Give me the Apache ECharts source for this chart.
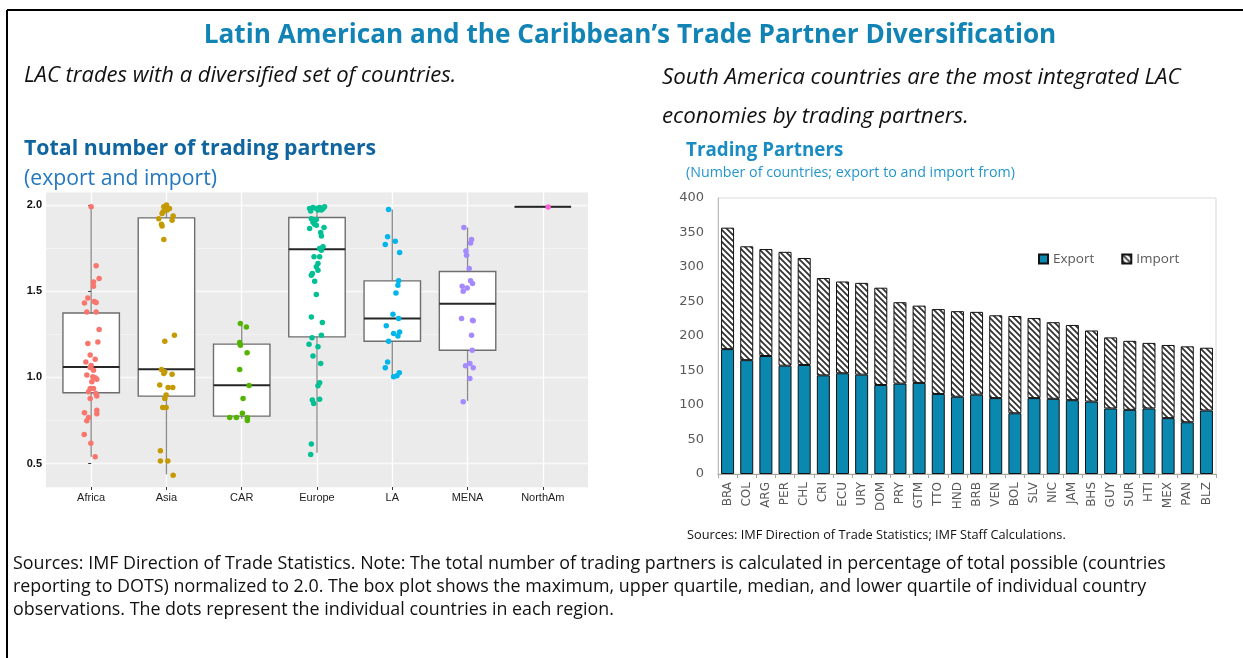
<!DOCTYPE html>
<html>
<head>
<meta charset="utf-8">
<title>LAC Trade Partner Diversification</title>
<script src="https://cdn.jsdelivr.net/npm/echarts@6/dist/echarts.min.js"></script>
<style>
  html, body { margin: 0; padding: 0; background: #fff; }
  #chartmain { width: 1243px; height: 658px; }
</style>
</head>
<body>
<div id="chartmain"></div>
<script>
// ---- left panel: box plot by region ----
var regionList = ['Africa', 'Asia', 'CAR', 'Europe', 'LA', 'MENA', 'NorthAm'];
// [min, lower quartile, median, upper quartile, max]
var boxStats = [
    [0.54, 0.911, 1.061, 1.374, 1.99],
    [0.438, 0.892, 1.048, 1.925, 2.0],
    [0.76, 0.776, 0.955, 1.193, 1.313],
    [0.563, 1.235, 1.743, 1.927, 1.995],
    [1.007, 1.21, 1.342, 1.56, 1.973],
    [0.864, 1.158, 1.427, 1.614, 1.869],
    [1.989, 1.989, 1.989, 1.989, 1.989]
];
// individual countries: [jitter, value]
var africaPts = [[0, 1.99], [0.066, 1.647], [0.106, 1.573], [0.031, 1.554], [0.031, 1.529], [-0.044, 1.461],
    [-0.089, 1.432], [0.04, 1.44], [0.066, 1.434], [-0.058, 1.38], [0.066, 1.38], [0.106, 1.278],
    [-0.044, 1.197], [0.089, 1.206], [-0.013, 1.13], [0.053, 1.106], [-0.071, 1.09], [0, 1.07],
    [-0.013, 1.058], [0.031, 1.042], [-0.058, 1.014], [0.022, 1.004], [0.053, 0.998], [0.075, 0.99],
    [0.009, 0.975], [-0.013, 0.936], [0.031, 0.936], [-0.035, 0.917], [0.062, 0.907], [0.075, 0.892],
    [-0.013, 0.878], [0.075, 0.81], [0.075, 0.79], [-0.089, 0.795], [-0.035, 0.768], [-0.058, 0.749],
    [-0.093, 0.67], [-0.004, 0.618], [0.053, 0.54]];
var asiaPts = [[0, 2.0], [-0.035, 1.99], [0.04, 1.98], [0.01, 1.97], [-0.044, 1.96], [-0.058, 1.95],
    [0.089, 1.936], [0.075, 1.911], [-0.102, 1.92], [-0.066, 1.888], [-0.058, 1.878], [-0.035, 1.8],
    [0.106, 1.245], [-0.022, 1.21], [-0.066, 1.046], [-0.022, 1.033], [-0.035, 1.023], [0.075, 1.019],
    [-0.089, 0.956], [0.022, 0.942], [0.084, 0.942], [-0.004, 0.898], [-0.022, 0.878], [-0.049, 0.826],
    [-0.004, 0.826], [-0.08, 0.575], [-0.08, 0.515], [0.018, 0.515], [0.089, 0.433]];
var carPts = [[-0.018, 1.313], [0.062, 1.293], [-0.027, 1.203], [-0.018, 1.187], [0.071, 1.143],
    [-0.027, 1.046], [0.098, 0.954], [0.018, 0.878], [0.009, 0.792], [-0.16, 0.768], [-0.071, 0.768],
    [0.075, 0.766], [0.075, 0.751]];
var europePts = [[-0.098, 1.98], [-0.053, 1.985], [-0.009, 1.98], [0.035, 1.985], [0.08, 1.98],
    [-0.084, 1.965], [0.013, 1.97], [0.058, 1.97], [0.1, 1.99], [-0.075, 1.92], [-0.009, 1.915],
    [-0.053, 1.9], [-0.031, 1.888], [-0.009, 1.882], [-0.098, 1.863], [0.093, 1.869], [0.049, 1.84],
    [0.058, 1.82], [0.08, 1.757], [0.035, 1.747], [0.058, 1.737], [-0.04, 1.699], [0.035, 1.699],
    [0.013, 1.66], [-0.009, 1.641], [0.013, 1.622], [-0.062, 1.602], [-0.075, 1.593], [-0.031, 1.558],
    [-0.009, 1.481], [-0.075, 1.351], [0.071, 1.318], [0.058, 1.245], [-0.066, 1.23], [-0.106, 1.193],
    [0.013, 1.178], [-0.053, 1.125], [0.049, 1.081], [0.035, 0.969], [0.013, 0.952], [-0.062, 0.869],
    [-0.044, 0.849], [0.035, 0.873], [-0.075, 0.614], [-0.084, 0.554]];
var laPts = [[-0.049, 1.973], [-0.062, 1.815], [0.04, 1.79], [-0.093, 1.77], [0.098, 1.724],
    [0.084, 1.56], [0.075, 1.535], [0.049, 1.49], [0.009, 1.367], [0.084, 1.342], [-0.08, 1.3],
    [0.018, 1.255], [0.098, 1.264], [0.075, 1.241], [-0.049, 1.21], [-0.062, 1.09], [-0.093, 1.056],
    [0.018, 1.004], [0.062, 1.01], [0.093, 1.027]];
var menaPts = [[-0.049, 1.869], [0.053, 1.8], [0.04, 1.78], [-0.022, 1.733], [-0.013, 1.709],
    [0.022, 1.631], [0.04, 1.56], [0.066, 1.544], [-0.071, 1.529], [-0.004, 1.519], [-0.058, 1.5],
    [-0.08, 1.342], [0.066, 1.332], [0.075, 1.328], [0.053, 1.245], [0.062, 1.158], [0.031, 1.081],
    [-0.027, 1.068], [0.075, 1.056], [0.031, 0.994], [-0.058, 0.859]];
var northAmPts = [[0.071, 1.988]];
var regionPts = [africaPts, asiaPts, carPts, europePts, laPts, menaPts, northAmPts];
var leftYTicks = [0.5, 1.0, 1.5, 2.0];

// ---- right panel: trading partners by country ----
var countryList = ['BRA', 'COL', 'ARG', 'PER', 'CHL', 'CRI', 'ECU', 'URY', 'DOM', 'PRY', 'GTM', 'TTO', 'HND',
    'BRB', 'VEN', 'BOL', 'SLV', 'NIC', 'JAM', 'BHS', 'GUY', 'SUR', 'HTI', 'MEX', 'PAN', 'BLZ'];
var exportList = [181, 165, 171, 157, 158, 143, 146, 144, 129, 131, 132, 116, 112,
    115, 110, 88, 110, 109, 107, 105, 95, 93, 95, 81, 75, 92];
var importList = [176, 165, 155, 165, 155, 141, 133, 133, 141, 118, 112, 123, 124,
    120, 120, 141, 116, 111, 109, 103, 103, 100, 95, 106, 110, 91];

var regionColors = ['#F8766D', '#C49A00', '#53B400', '#00C094', '#00B6EB', '#A58AFF', '#FB61D7'];
var textFont = "'Open Sans', 'Noto Sans', sans-serif";

window.onload = function () {
    var chart = echarts.init(document.getElementById('chartmain'));
    initChart(chart);
};

// diagonal hatch used for the import bars
function makeHatch() {
    var s = 6;
    var c = document.createElement('canvas');
    c.width = s;
    c.height = s;
    var ctx = c.getContext('2d');
    ctx.fillStyle = '#fff';
    ctx.fillRect(0, 0, s, s);
    ctx.strokeStyle = '#333';
    ctx.lineWidth = 1.8;
    ctx.beginPath();
    ctx.moveTo(-1, -1); ctx.lineTo(s + 1, s + 1);
    ctx.moveTo(-1, s - 1); ctx.lineTo(1, s + 1);
    ctx.moveTo(s - 1, -1); ctx.lineTo(s + 1, 1);
    ctx.stroke();
    return c;
}

function renderBox(params, api) {
    var x = api.value(0);
    var lo = api.coord([x, api.value(1)]);
    var q1 = api.coord([x, api.value(2)]);
    var md = api.coord([x, api.value(3)]);
    var q3 = api.coord([x, api.value(4)]);
    var hi = api.coord([x, api.value(5)]);
    var half = api.size([0.75, 0])[0] / 2;
    var cx = lo[0];
    return {
        type: 'group',
        children: [
            { type: 'line', shape: { x1: cx, y1: lo[1], x2: cx, y2: q1[1] }, style: { stroke: '#8a8a8a', lineWidth: 1.3 } },
            { type: 'line', shape: { x1: cx, y1: q3[1], x2: cx, y2: hi[1] }, style: { stroke: '#8a8a8a', lineWidth: 1.3 } },
            { type: 'rect', shape: { x: cx - half, y: q3[1], width: half * 2, height: q1[1] - q3[1] },
              style: { fill: '#fff', stroke: '#6e6e6e', lineWidth: 1.4 } },
            { type: 'line', shape: { x1: cx - half, y1: md[1], x2: cx + half, y2: md[1] }, style: { stroke: '#262626', lineWidth: 2 } }
        ]
    };
}

function txt(x, y, text, size, color, weight, style, align) {
    return {
        type: 'text', x: x, y: y, silent: true,
        style: {
            text: text, fill: color, align: align || 'left', verticalAlign: 'middle',
            font: (style || 'normal') + ' ' + (weight || 'normal') + ' ' + size + 'px ' + textFont
        }
    };
}

function initChart(chart) {
    var boxData = boxStats.map(function (s, i) { return [i].concat(s); });
    var series = [{
        type: 'custom',
        xAxisIndex: 0, yAxisIndex: 0,
        renderItem: renderBox,
        encode: { x: 0, y: [1, 2, 3, 4, 5] },
        data: boxData,
        silent: true
    }];
    regionPts.forEach(function (pts, i) {
        series.push({
            type: 'scatter',
            name: regionList[i],
            xAxisIndex: 0, yAxisIndex: 0,
            symbolSize: 5.5,
            itemStyle: { color: regionColors[i], opacity: 1 },
            data: pts.map(function (p) { return [i + p[0], p[1]]; })
        });
    });

    var hatch = makeHatch();
    series.push({
        name: 'Export', type: 'bar', stack: 'total',
        xAxisIndex: 1, yAxisIndex: 2,
        barWidth: 13,
        itemStyle: { color: '#0a88b0', borderColor: '#111', borderWidth: 1 },
        data: exportList
    });
    series.push({
        name: 'Import', type: 'bar', stack: 'total',
        xAxisIndex: 1, yAxisIndex: 2,
        barWidth: 13,
        itemStyle: { color: { image: hatch, repeat: 'repeat' }, borderColor: '#111', borderWidth: 1 },
        data: importList
    });

    chart.setOption({
        backgroundColor: '#fff',
        animation: false,
        textStyle: { fontFamily: textFont },
        grid: [
            { left: 46, top: 192, width: 542, height: 295, show: true, backgroundColor: '#ebebeb', borderWidth: 0 },
            { left: 718, top: 198, width: 498, height: 276, show: true, borderColor: '#d9d9d9', borderWidth: 1 }
        ],
        legend: {
            data: ['Export', 'Import'],
            left: 1033, top: 247,
            icon: 'rect', itemWidth: 9, itemHeight: 9, itemGap: 27,
            textStyle: { fontSize: 13.5, color: '#595959', fontFamily: textFont }
        },
        xAxis: [{
            type: 'value', gridIndex: 0,
            min: -0.6, max: 6.6, minInterval: 1, maxInterval: 1,
            axisLine: { show: false },
            axisTick: { show: true, length: 3, lineStyle: { color: '#333' }, customValues: [0, 1, 2, 3, 4, 5, 6] },
            axisLabel: {
                margin: 5, fontSize: 11, color: '#222', fontFamily: "'Liberation Sans', Arial, sans-serif",
                customValues: [0, 1, 2, 3, 4, 5, 6],
                formatter: function (v) { return Number.isInteger(v) ? regionList[v] : ''; }
            },
            splitLine: { show: true, lineStyle: { color: '#fff', width: 1.3 } }
        }, {
            type: 'category', gridIndex: 1,
            data: countryList,
            axisLine: { lineStyle: { color: '#a6a6a6' } },
            axisTick: { show: true, length: 4, lineStyle: { color: '#a6a6a6' } },
            axisLabel: { rotate: 90, margin: 8, fontSize: 12, color: '#595959', fontFamily: "'DejaVu Sans', sans-serif" }
        }],
        yAxis: [{
            type: 'value', gridIndex: 0,
            min: 0.365, max: 2.075, minInterval: 0.5, maxInterval: 0.5,
            axisLine: { show: false },
            axisTick: { show: true, length: 3, lineStyle: { color: '#333' }, customValues: leftYTicks },
            axisLabel: {
                margin: 4, fontSize: 11, color: '#111', fontWeight: 'bold', fontFamily: "'Liberation Sans', Arial, sans-serif",
                customValues: leftYTicks,
                formatter: function (v) { return v.toFixed(1); }
            },
            splitLine: { show: true, lineStyle: { color: '#fff', width: 1.3 } }
        }, {
            type: 'value', gridIndex: 0, position: 'left',
            min: 0.365, max: 2.075, minInterval: 0.25, maxInterval: 0.25,
            axisLine: { show: false }, axisTick: { show: false }, axisLabel: { show: false },
            splitLine: { show: true, lineStyle: { color: '#f7f7f7', width: 0.7 } }
        }, {
            type: 'value', gridIndex: 1,
            min: 0, max: 400, interval: 50,
            axisLine: { show: true, lineStyle: { color: '#bfbfbf' } },
            axisTick: { show: false },
            axisLabel: { margin: 14, fontSize: 13, color: '#595959', fontFamily: "'DejaVu Sans', sans-serif" },
            splitLine: { show: false }
        }],
        series: series,
        graphic: [
            { type: 'line', shape: { x1: 7, y1: 10, x2: 1243, y2: 10 }, style: { stroke: '#000', lineWidth: 2 }, silent: true },
            { type: 'line', shape: { x1: 7, y1: 10, x2: 7, y2: 658 }, style: { stroke: '#000', lineWidth: 2 }, silent: true },
            txt(630, 36, 'Latin American and the Caribbean\u2019s Trade Partner Diversification', 26.2, '#1283b5', 'bold', 'normal', 'center'),
            txt(24, 76, 'LAC trades with a diversified set of countries.', 22, '#111', 'normal', 'italic'),
            txt(662, 78, 'South America countries are the most integrated LAC', 22.3, '#111', 'normal', 'italic'),
            txt(662, 117, 'economies by trading partners.', 22.3, '#111', 'normal', 'italic'),
            txt(24, 149, 'Total number of trading partners', 21.3, '#0f65a0', 'bold'),
            txt(24, 179, '(export and import)', 21.2, '#2277c0'),
            txt(686, 151, 'Trading Partners', 18.8, '#1a8cc4', 'bold'),
            txt(686, 173, '(Number of countries; export to and import from)', 14.25, '#2596cc'),
            txt(687, 535, 'Sources: IMF Direction of Trade Statistics; IMF Staff Calculations.', 12.75, '#111'),
            txt(13, 564, 'Sources: IMF Direction of Trade Statistics. Note: The total number of trading partners is calculated in percentage of total possible (countries', 17.85, '#111'),
            txt(13, 587, 'reporting to DOTS) normalized to 2.0. The box plot shows the maximum, upper quartile, median, and lower quartile of individual country', 17.85, '#111'),
            txt(13, 610, 'observations. The dots represent the individual countries in each region.', 17.85, '#111')
        ]
    });
}
</script>
</body>
</html>
